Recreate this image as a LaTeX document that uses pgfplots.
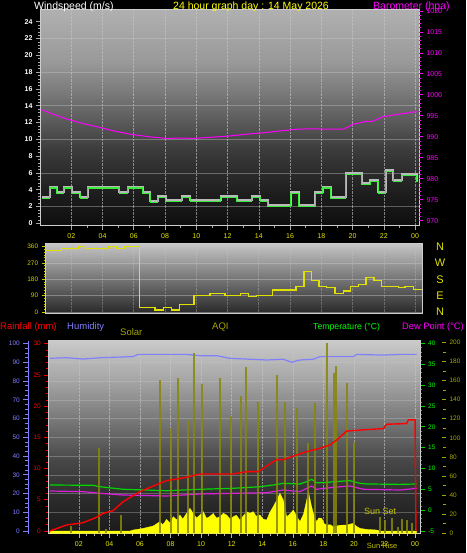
\documentclass[border=0pt]{standalone}
\usepackage{pgfplots}
\pgfplotsset{compat=1.18}
\usepackage{fontspec}
\setmainfont{Liberation Sans}
\definecolor{labyellow}{RGB}{230,230,0}
\definecolor{titleyellow}{RGB}{255,255,0}
\definecolor{mag}{RGB}{255,0,255}
\definecolor{windgreen}{RGB}{60,235,60}
\definecolor{windgray}{RGB}{185,185,185}
\definecolor{diryellow}{RGB}{225,225,0}
\definecolor{dirlab}{RGB}{205,205,0}
\definecolor{humblue}{RGB}{128,128,255}
\definecolor{rainred}{RGB}{255,0,0}
\definecolor{tempgreen}{RGB}{0,215,0}
\definecolor{templab}{RGB}{0,255,0}
\definecolor{dewmag}{RGB}{220,30,220}
\definecolor{solar}{RGB}{255,255,0}
\definecolor{aqi}{RGB}{135,135,10}
\definecolor{olivetxt}{RGB}{165,165,0}
\definecolor{suntxt}{RGB}{195,195,0}
\definecolor{gridc}{RGB}{200,200,200}
\definecolor{bevel}{RGB}{205,205,205}
\definecolor{p2t}{RGB}{196,196,196}
\definecolor{p2m}{RGB}{110,110,110}
\definecolor{p2b}{RGB}{40,40,40}
\pgfdeclareverticalshading{pone}{100bp}{rgb(0bp)=(0.055,0.055,0.055); rgb(25bp)=(0.055,0.055,0.055); rgb(33bp)=(0.12,0.12,0.12); rgb(42.5bp)=(0.23,0.23,0.23); rgb(55bp)=(0.46,0.46,0.46); rgb(63bp)=(0.60,0.60,0.60); rgb(75bp)=(0.69,0.69,0.69); rgb(100bp)=(0.69,0.69,0.69)}
\pgfdeclareverticalshading{pthree}{100bp}{rgb(0bp)=(0.10,0.10,0.10); rgb(25bp)=(0.10,0.10,0.10); rgb(34bp)=(0.17,0.17,0.17); rgb(44bp)=(0.28,0.28,0.28); rgb(54bp)=(0.46,0.46,0.46); rgb(65bp)=(0.65,0.65,0.65); rgb(75bp)=(0.79,0.79,0.79); rgb(100bp)=(0.79,0.79,0.79)}
\pgfplotsset{
  every axis/.append style={scale only axis, anchor=south west,
    /pgf/number format/assume math mode=true, /pgf/number format/1000 sep={}},
}
\newcommand{\tf}{\fontsize{7}{8}\selectfont}
\newcommand{\smf}{\fontsize{6.5}{7.5}\selectfont}
\begin{document}
\begin{tikzpicture}
\fill[black] (0pt,0pt) rectangle (466pt,553pt);
\useasboundingbox (0pt,0pt) rectangle (466pt,553pt);

% ---------------- PANEL 1 : wind speed ----------------
\begin{axis}[at={(40pt,327pt)}, width=379pt, height=216pt,
  xmin=0, xmax=24.25, ymin=-0.32, ymax=25.4,
  axis background/.style={shade, shading=pone},
  axis line style={draw=bevel, line width=1pt},
  tick pos=left, tick align=outside,
  xtick={2,4,...,24}, xticklabels={02,04,06,08,10,12,14,16,18,20,22,00},
  minor x tick num=1,
  ytick={0,2,...,24}, minor y tick num=4,
  major tick length=4pt, minor tick length=2pt,
  tick style={draw=gray!70!white, line width=0.6pt},
  xticklabel style={font=\tf, text=labyellow},
  yticklabel style={font=\bfseries\tf, text=white},
  xmajorgrids, x grid style={densely dotted, gridc, line width=0.6pt, opacity=0.6},
  y grid style={gridc, opacity=0.4, line width=0.6pt},
  extra y ticks={2,6,10,14,18,22}, extra y tick labels={},
  extra y tick style={major tick length=0pt, grid=major},
]
\addplot[const plot, draw=windgray, line width=2pt, yshift=1.2pt] coordinates {
(0.13,3.0) (0.62,4.2) (1.08,3.6) (1.51,4.2) (2.04,3.6) (2.58,3.0) (3.05,4.2) (5.07,3.6) (5.60,4.2) (6.58,3.6) (7.05,2.5) (7.52,3.1) (8.05,2.6) (9.08,3.1) (9.61,2.6) (11.57,3.1) (12.59,2.6) (13.55,3.1) (14.08,2.6) (14.57,2.0) (16.05,3.6) (16.54,2.0) (17.60,3.6) (18.09,4.2) (18.60,3.0) (19.56,5.8) (20.59,4.6) (21.12,5.0) (21.65,3.6) (22.12,6.2) (22.61,5.0) (23.14,5.7) (24.10,5.0) (24.2,5.0)};
\addplot[const plot, draw=windgreen, line width=1.1pt] coordinates {
(0.13,3.0) (0.62,4.2) (1.08,3.6) (1.51,4.2) (2.04,3.6) (2.58,3.0) (3.05,4.2) (5.07,3.6) (5.60,4.2) (6.58,3.6) (7.05,2.5) (7.52,3.1) (8.05,2.6) (9.08,3.1) (9.61,2.6) (11.57,3.1) (12.59,2.6) (13.55,3.1) (14.08,2.6) (14.57,2.0) (16.05,3.6) (16.54,2.0) (17.60,3.6) (18.09,4.2) (18.60,3.0) (19.56,5.8) (20.59,4.6) (21.12,5.0) (21.65,3.6) (22.12,6.2) (22.61,5.0) (23.14,5.7) (24.10,5.0) (24.2,5.0)};
\end{axis}

% barometer
\begin{axis}[at={(40pt,327pt)}, width=379pt, height=216pt,
  xmin=0, xmax=24.25, ymin=968.74, ymax=1020.2,
  axis x line=none, axis y line*=right, y axis line style={draw=none},
  ytick={970,975,...,1020}, minor y tick num=4, tick align=outside,
  major tick length=4pt, minor tick length=2pt,
  ytick style={draw=mag, line width=0.6pt},
  yticklabel style={font=\tf, text=mag},
]
\addplot[mag, line width=1pt] coordinates {
(0.13,996.4) (0.9,995.3) (1.73,994.2) (2.7,993.2) (3.64,992.4) (4.7,991.4) (5.77,990.6) (7.0,990.0) (8.12,989.6) (9.0,989.7) (9.82,989.6) (11.0,989.9) (12.17,990.2) (13.2,990.6) (14.3,990.95) (15.4,991.4) (16.43,991.8) (17.5,991.9) (18.5,991.8) (19.41,991.8) (20.05,993.0) (20.9,993.7) (21.2,993.6) (21.97,994.8) (23.0,995.4) (24.1,996.0)};
\end{axis}

% ---------------- PANEL 2 : wind direction ----------------
\begin{axis}[at={(45.7pt,239.7pt)}, width=377pt, height=69.3pt,
  xmin=0.38, xmax=24.49, ymin=-7, ymax=374.7,
  axis background/.style={shade, top color=p2t, middle color=p2m, bottom color=p2b},
  axis line style={draw=bevel, line width=1pt},
  tick pos=left, tick align=outside,
  xtick={2,4,...,24}, xticklabels={}, xtick style={draw=none},
  ytick={0,90,...,360}, minor y tick num=5,
  ytick style={draw=dirlab, line width=0.6pt},
  major tick length=4pt, minor tick length=2pt,
  yticklabel style={font=\smf, text=dirlab},
  xmajorgrids, ymajorgrids,
  x grid style={densely dotted, gridc, opacity=0.35},
  y grid style={gridc, opacity=0.45, line width=0.6pt},
]
\addplot[const plot, diryellow, line width=1.2pt] coordinates {
(0.40,338) (1.40,349) (2.47,360) (2.90,349) (4.39,360) (4.92,349) (5.39,360) (6.37,24) (7.37,11) (7.90,24) (8.44,11) (8.93,40) (9.87,90) (10.89,103) (11.85,90) (12.85,103) (13.34,85) (13.87,90) (14.90,121) (16.39,140) (16.90,222) (17.39,173) (17.86,140) (18.35,134) (18.88,103) (19.41,116) (19.88,140) (20.37,152) (20.86,189) (21.38,173) (21.87,140) (22.93,134) (23.36,140) (23.89,125) (24.42,125)};
\end{axis}
\begin{axis}[at={(45.7pt,239.7pt)}, width=377pt, height=69.3pt,
  xmin=0, xmax=1, ymin=-7, ymax=374.7,
  axis x line=none, axis y line*=right, y axis line style={draw=none},
  ytick={0,90,180,270,360}, yticklabels={N,E,S,W,N},
  major tick length=0pt,
  yticklabel style={font=\fontsize{11}{12}\selectfont, text=diryellow, anchor=center, xshift=17.3pt},
]
\addplot[draw=none] coordinates {(0,0)};
\end{axis}

% ---------------- PANEL 3 ----------------
% base: background, grid, rainfall axis
\begin{axis}[at={(48.3pt,19pt)}, width=372.4pt, height=193pt,
  xmin=0, xmax=24.37, ymin=-0.48, ymax=30.43,
  axis background/.style={shade, shading=pthree},
  axis line style={draw=bevel, line width=1pt},
  tick pos=left, tick align=outside,
  xtick={2,4,...,24}, xticklabels={02,04,06,08,10,12,14,16,18,20,22,00},
  minor x tick num=3,
  xtick style={draw=gray!60!white, line width=0.6pt},
  ytick={0,5,...,30}, minor y tick num=4,
  ytick style={draw=rainred, line width=0.6pt},
  major tick length=4pt, minor tick length=2pt,
  xticklabel style={font=\tf, text=labyellow},
  yticklabel style={font=\smf, text=rainred},
  xmajorgrids, x grid style={densely dotted, gridc, line width=0.6pt, opacity=0.6},
  y grid style={gridc, opacity=0.35, line width=0.6pt},
  extra y ticks={3,6,...,27}, extra y tick labels={},
  extra y tick style={major tick length=0pt, grid=major},
]
\addplot[draw=none] coordinates {(1,1)};
\end{axis}

% solar area
\begin{axis}[at={(48.3pt,19pt)}, width=372.4pt, height=193pt,
  xmin=0, xmax=24.37, ymin=-0.7, ymax=201.4, hide axis]
\addplot[fill=solar, draw=solar, line width=0.3pt] coordinates {
(0.10,2.4) (5.34,2.4) (5.56,3.5) (6.21,5.2) (6.87,7.7) (7.30,12.2) (7.5,9) (7.74,14.6) (7.95,11) (8.18,17.4) (8.4,14) (8.61,19.2) (8.8,15) (9.05,20.9) (9.27,26.2) (9.48,20.9) (9.7,16) (9.92,19.2) (10.14,22.7) (10.36,15.7) (10.6,18) (10.79,20.9) (11.0,16) (11.23,17.4) (11.45,21) (11.67,19.2) (11.9,15) (12.10,17.4) (12.3,19) (12.54,13.9) (12.75,18) (12.98,22.7) (13.2,21) (13.41,22.7) (13.6,18) (13.85,19.2) (14.05,15) (14.29,13.9) (14.5,22) (14.72,27.9) (14.95,35) (15.16,41.9) (15.38,34.9) (15.6,17.4) (15.8,20) (16.03,24.4) (16.25,18) (16.47,12.2) (16.7,20) (16.91,34.9) (17.02,43.6) (17.23,27.9) (17.4,18) (17.56,12.2) (17.7,16) (17.89,15.7) (18.05,10) (18.21,8.7) (18.45,9) (18.65,7.0) (19.1,8.5) (19.52,8.7) (19.96,10.5) (20.2,7) (20.40,5.2) (20.84,4.1) (21.49,3.5) (21.71,2.4) (24.11,2.4)} \closedcycle;
\end{axis}

% temperature and dew point
\begin{axis}[at={(48.3pt,19pt)}, width=372.4pt, height=193pt,
  xmin=0, xmax=24.37, ymin=-5.72, ymax=40.65,
  axis x line=none, axis y line*=right, y axis line style={draw=none},
  ytick={-5,0,...,40}, minor y tick num=4, tick align=outside,
  major tick length=4pt, minor tick length=1.5pt,
  ytick style={draw=tempgreen, line width=0.9pt},
  yticklabel style={font=\smf, text=templab},
]
\addplot[tempgreen, line width=1.2pt] coordinates {
(0.10,6.05) (2.94,5.98) (3.37,5.64) (4.90,5.02) (7.74,4.68) (9.92,5.02) (12.10,5.26) (13.85,5.64) (14.72,6.05) (15.38,6.46) (16.47,6.3) (16.91,6.85) (17.23,7.42) (17.56,6.6) (18.21,6.65) (18.65,6.85) (19.74,7.09) (20.40,6.46) (20.84,6.3) (23.02,6.2) (24.11,6.3)};
\addplot[dewmag, line width=1.2pt] coordinates {
(0.10,4.61) (2.28,4.45) (3.37,4.06) (4.90,3.65) (7.74,3.41) (9.92,3.89) (12.10,4.06) (14.29,4.2) (15.38,4.85) (16.47,4.45) (17.23,5.81) (17.56,5.02) (18.65,5.5) (19.74,5.81) (20.62,5.02) (23.02,4.85) (24.11,5.26)};
\end{axis}

% humidity line
\begin{axis}[at={(48.3pt,19pt)}, width=372.4pt, height=193pt,
  xmin=0, xmax=24.37, ymin=-1.6, ymax=101.44, hide axis]
\addplot[humblue, line width=1.2pt] coordinates {
(0.10,92.2) (1.19,92.5) (2.28,91.8) (3.37,92.5) (5.56,93.1) (5.88,94.3) (9.05,94.3) (9.92,93.6) (11.01,93.6) (11.89,92.2) (13.20,91.7) (14.29,91.3) (15.38,91.7) (15.92,90.1) (16.47,91.3) (17.34,91.7) (17.78,93.1) (19.96,93.1) (20.18,94.3) (21.93,93.9) (23.02,94.3) (24.11,94.3)};
\end{axis}

% AQI spikes
\begin{axis}[at={(48.3pt,19pt)}, width=372.4pt, height=193pt,
  xmin=0, xmax=24.37, ymin=-0.7, ymax=201.4, hide axis]
\addplot[ycomb, draw=aqi, line width=2pt, opacity=0.85] coordinates {
(1.47,8) (3.31,89.6) (3.77,4.5) (4.73,19.2) (7.30,160.5) (8.00,110) (8.46,162.3) (9.16,118.6) (9.53,189.1) (10.03,156.3) (11.23,162.3) (11.93,123.1) (12.59,143.8) (12.91,174.5) (13.74,137.2) (14.94,165.8) (15.49,137.2) (16.25,130.9) (17.01,94.2) (17.45,136.8) (18.22,199.6) (18.72,168.2) (18.85,175.2) (19.53,157.1) (20.01,95.9) (21.71,17.4) (22.04,14) (22.47,15.7) (22.9,7) (23.13,14.7) (23.46,14) (23.78,10.5)};
\end{axis}

% rainfall line
\begin{axis}[at={(48.3pt,19pt)}, width=372.4pt, height=193pt,
  xmin=0, xmax=24.37, ymin=-0.48, ymax=30.43, hide axis]
\addplot[rainred, line width=1.4pt] coordinates {
(0.10,0) (1.19,0.96) (2.28,1.33) (3.15,2.19) (3.59,2.83) (4.25,3.26) (4.90,4.7) (5.99,6.3) (6.87,7.2) (7.74,8.06) (9.05,8.6) (9.92,9.13) (12.1,9.13) (12.98,9.5) (13.74,9.5) (14.29,10.4) (14.94,11.43) (15.4,11.43) (16.03,12.0) (16.9,12.7) (17.78,13.25) (18.44,13.78) (18.87,14.58) (19.53,16.0) (20.62,16.2) (21.93,16.4) (22.14,17.1) (23.45,17.2) (23.56,17.8) (24.0,17.8) (24.06,0)};
\end{axis}

% humidity axis (left, blue)
\begin{axis}[at={(28.3pt,19pt)}, width=10pt, height=193pt,
  xmin=0, xmax=1, ymin=-1.6, ymax=101.44,
  axis x line=none, axis y line*=left, y axis line style={draw=humblue, line width=1.2pt, -},
  ytick={0,10,...,100}, minor y tick num=3, tick align=outside,
  major tick length=5pt, minor tick length=3pt,
  ytick style={draw=humblue, line width=0.8pt},
  yticklabel style={font=\smf, text=humblue},
]
\addplot[draw=none] coordinates {(0.5,50)};
\end{axis}

% solar axis (far right, olive)
\begin{axis}[at={(434pt,19pt)}, width=10pt, height=193pt,
  xmin=0, xmax=1, ymin=-0.7, ymax=201.4,
  axis x line=none, axis y line*=right, y axis line style={draw=none},
  ytick={0,20,...,200}, minor y tick num=1, tick align=center,
  major tick length=4pt, minor tick length=3pt,
  ytick style={draw=olivetxt, line width=0.7pt},
  yticklabel style={font=\smf, text=olivetxt},
]
\addplot[draw=none] coordinates {(0.5,50)};
\end{axis}

% ---------------- texts ----------------
\node[anchor=base west, inner sep=0pt, text=white, font=\fontsize{10.5}{12}\selectfont] at (34pt,543.7pt) {Windspeed (m/s)};
\node[anchor=base, inner sep=0pt, text=titleyellow, font=\fontsize{10.5}{12}\selectfont] at (251pt,543.7pt) {24 hour graph day : 14 May 2026};
\node[anchor=base west, inner sep=0pt, text=mag, font=\fontsize{10.5}{12}\selectfont] at (373pt,543.7pt) {Barometer (hpa)};

\node[anchor=base west, inner sep=0pt, text=rainred, font=\fontsize{9.5}{11}\selectfont] at (0pt,223pt) {Rainfall (mm)};
\node[anchor=base west, inner sep=0pt, text=humblue, font=\fontsize{9.5}{11}\selectfont] at (67pt,223pt) {Humidity};
\node[anchor=base west, inner sep=0pt, text=olivetxt, font=\fontsize{9.5}{11}\selectfont] at (120pt,217pt) {Solar};
\node[anchor=base west, inner sep=0pt, text=olivetxt, font=\fontsize{9.5}{11}\selectfont] at (212pt,223pt) {AQI};
\node[anchor=base west, inner sep=0pt, text=templab, font=\fontsize{8.7}{10}\selectfont] at (313pt,223pt) {Temperature (°C)};
\node[anchor=base east, inner sep=0pt, text=mag, font=\fontsize{9.3}{11}\selectfont] at (464pt,223pt) {Dew Point (°C)};

\node[anchor=base west, inner sep=0pt, text=suntxt, font=\fontsize{9}{10}\selectfont] at (364pt,38.7pt) {Sun Set};
\node[anchor=base west, inner sep=0pt, text=suntxt, font=\fontsize{7.5}{9}\selectfont] at (366.7pt,5pt) {Sun Rise};
\end{tikzpicture}
\end{document}
